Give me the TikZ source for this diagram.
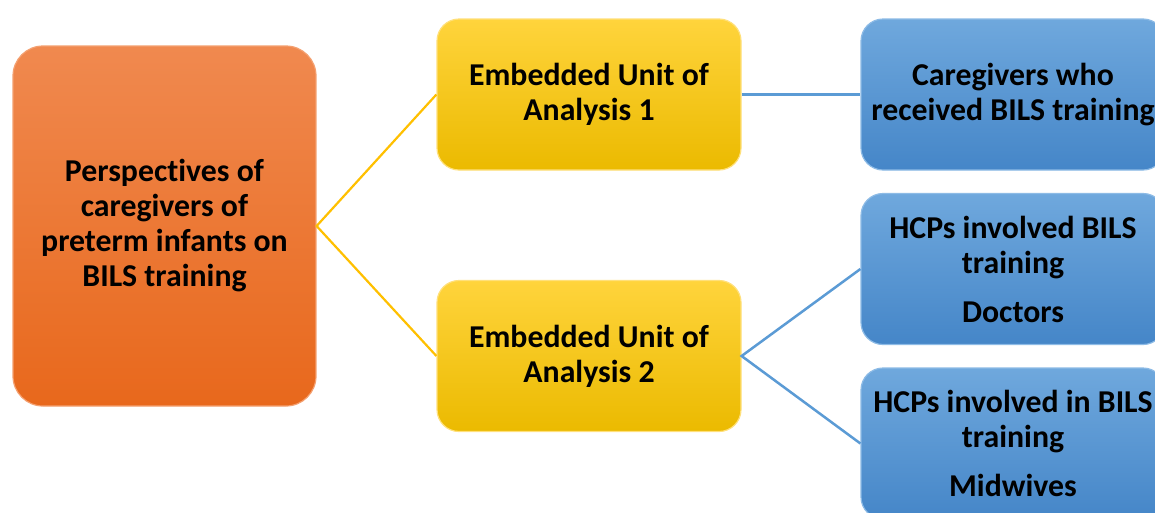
\documentclass[tikz,border=0pt]{standalone}
\usepackage{fontspec}
\setmainfont[Ligatures=NoCommon]{Carlito}
\definecolor{orTop}{HTML}{F0894F}
\definecolor{orBot}{HTML}{E8681C}
\definecolor{orEdge}{HTML}{F4A070}
\definecolor{yeTop}{HTML}{FFD43C}
\definecolor{yeBot}{HTML}{EBBA00}
\definecolor{yeEdge}{HTML}{FFE07A}
\definecolor{blTop}{HTML}{6FA8DD}
\definecolor{blBot}{HTML}{4586C8}
\definecolor{blEdge}{HTML}{8DBBE6}
\definecolor{yeLine}{HTML}{FFC000}
\definecolor{blLine}{HTML}{5B9BD5}
\tikzset{
  box/.style={rectangle, rounded corners=22pt, line width=1.2pt, align=center,
    font=\bfseries\fontsize{31.8}{35}\selectfont, text=black, inner sep=0pt},
  rootbox/.style={box, rounded corners=30pt, draw=orEdge, top color=orTop, bottom color=orBot,
    minimum width=303pt, minimum height=360pt},
  unitbox/.style={box, draw=yeEdge, top color=yeTop, bottom color=yeBot,
    minimum width=304pt, minimum height=151pt},
  groupbox/.style={box, draw=blEdge, top color=blTop, bottom color=blBot,
    minimum width=304pt, minimum height=151pt},
  ylink/.style={draw=yeLine, line width=2.2pt},
  blink/.style={draw=blLine, line width=2.5pt}
}
\begin{document}
\begin{tikzpicture}[x=1pt,y=-1pt]
\useasboundingbox (0,0) rectangle (1155,512);
\clip (0,0) rectangle (1155,512);
\fill[white] (0,0) rectangle (1155,512);

\node[rootbox] (root) at (164.5,226) {Perspectives of\\caregivers of\\preterm infants on\\BILS training};
\node[unitbox] (u1) at (589,94.5) {Embedded Unit of\\Analysis 1};
\node[unitbox] (u2) at (589,356) {Embedded Unit of\\Analysis 2};
\node[groupbox] (g1) at (1013,94.5) {Caregivers who\\received BILS training};
\node[groupbox] (g2) at (1013,269) {HCPs involved BILS\\training\\[14pt]Doctors};
\node[groupbox] (g3) at (1013,443.5) {HCPs involved in BILS\\training\\[14pt]Midwives};

\draw[ylink] (u1.west) -- (root.east) -- (u2.west);
\draw[blink] (u1.east) -- (g1.west);
\draw[blink] (g2.west) -- (u2.east) -- (g3.west);
\end{tikzpicture}
\end{document}
